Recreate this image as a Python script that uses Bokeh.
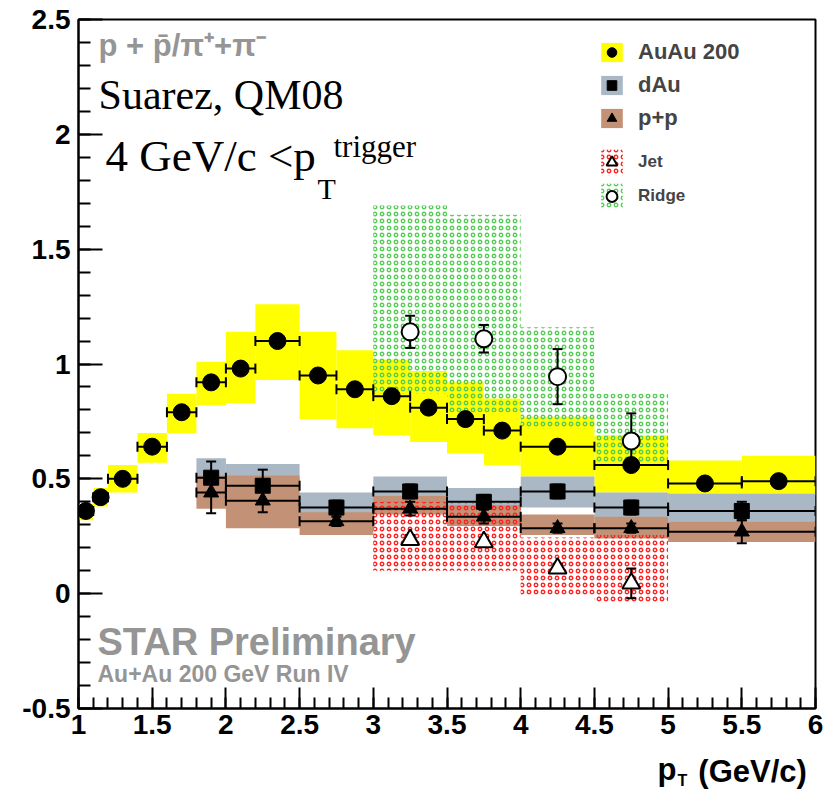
import math
from bokeh.plotting import figure
from bokeh.layouts import column
from bokeh.models import (Range1d, SingleIntervalTicker, Label, Legend, LegendItem,
                          ColumnDataSource)
from bokeh.embed import file_html
from bokeh.resources import INLINE

# ---------------- data ----------------
# Au+Au 200 GeV (filled circles, yellow systematic boxes)
auau_x = [1.05, 1.15, 1.3, 1.5, 1.7, 1.9, 2.1, 2.35, 2.625, 2.875, 3.125, 3.375, 3.625, 3.875, 4.25, 4.75, 5.25, 5.75]
auau_lo = [1.0, 1.1, 1.2, 1.4, 1.6, 1.8, 2.0, 2.2, 2.5, 2.75, 3.0, 3.25, 3.5, 3.75, 4.0, 4.5, 5.0, 5.5]
auau_hi = [1.1, 1.2, 1.4, 1.6, 1.8, 2.0, 2.2, 2.5, 2.75, 3.0, 3.25, 3.5, 3.75, 4.0, 4.5, 5.0, 5.5, 6.0]
auau_y = [0.36, 0.42, 0.50, 0.64, 0.79, 0.92, 0.98, 1.10, 0.95, 0.89, 0.86, 0.81, 0.76, 0.71, 0.64, 0.56, 0.48, 0.49]
auau_sys_lo = [0.32, 0.38, 0.44, 0.57, 0.70, 0.82, 0.83, 0.93, 0.76, 0.72, 0.69, 0.66, 0.61, 0.56, 0.51, 0.44, 0.43, 0.43]
auau_sys_hi = [0.39, 0.46, 0.56, 0.70, 0.87, 1.01, 1.14, 1.26, 1.14, 1.06, 1.02, 0.97, 0.92, 0.85, 0.77, 0.69, 0.58, 0.60]

# d+Au (filled squares, grey-blue boxes)
dau_x = [1.9, 2.25, 2.75, 3.25, 3.75, 4.25, 4.75, 5.5]
dau_lo = [1.8, 2.0, 2.5, 3.0, 3.5, 4.0, 4.5, 5.0]
dau_hi = [2.0, 2.5, 3.0, 3.5, 4.0, 4.5, 5.0, 6.0]
dau_y = [0.505, 0.47, 0.375, 0.445, 0.40, 0.445, 0.375, 0.36]
dau_err = [0.07, 0.07, 0.03, 0.03, 0.03, 0.03, 0.03, 0.04]
dau_sys_lo = [0.435, 0.385, 0.315, 0.365, 0.345, 0.375, 0.325, 0.315]
dau_sys_hi = [0.59, 0.565, 0.44, 0.51, 0.46, 0.51, 0.44, 0.435]

# p+p (filled triangles, brown boxes)
pp_x = [1.9, 2.25, 2.75, 3.25, 3.75, 4.25, 4.75, 5.5]
pp_lo = [1.8, 2.0, 2.5, 3.0, 3.5, 4.0, 4.5, 5.0]
pp_hi = [2.0, 2.5, 3.0, 3.5, 4.0, 4.5, 5.0, 6.0]
pp_y = [0.44, 0.405, 0.315, 0.37, 0.335, 0.285, 0.285, 0.27]
pp_err = [0.09, 0.05, 0.02, 0.03, 0.03, 0.02, 0.02, 0.05]
pp_sys_lo = [0.37, 0.285, 0.255, 0.345, 0.295, 0.255, 0.24, 0.225]
pp_sys_hi = [0.515, 0.515, 0.355, 0.425, 0.385, 0.345, 0.335, 0.315]

# Jet (open triangles, red hatch)
jet_x = [3.25, 3.75, 4.25, 4.75]
jet_lo = [3.0, 3.5, 4.0, 4.5]
jet_hi = [3.5, 4.0, 4.5, 5.0]
jet_y = [0.235, 0.225, 0.11, 0.045]
jet_err = [0.02, 0.02, 0.02, 0.065]
jet_sys_lo = [0.10, 0.10, -0.005, -0.035]
jet_sys_hi = [0.40, 0.395, 0.245, 0.255]

# Ridge (open circles, green hatch)
ridge_x = [3.25, 3.75, 4.25, 4.75]
ridge_lo = [3.0, 3.5, 4.0, 4.5]
ridge_hi = [3.5, 4.0, 4.5, 5.0]
ridge_y = [1.14, 1.11, 0.945, 0.665]
ridge_err = [0.07, 0.06, 0.12, 0.12]
ridge_sys_lo = [0.87, 0.79, 0.72, 0.57]
ridge_sys_hi = [1.69, 1.65, 1.16, 0.87]

x_ticks = [1, 1.5, 2, 2.5, 3, 3.5, 4, 4.5, 5, 5.5, 6]
x_tick_labels = ["1", "1.5", "2", "2.5", "3", "3.5", "4", "4.5", "5", "5.5", "6"]
y_ticks = [-0.5, 0, 0.5, 1, 1.5, 2, 2.5]
y_tick_labels = ["-0.5", "0", "0.5", "1", "1.5", "2", "2.5"]

# ---------------- figure ----------------
W = 835
p = figure(width=W, height=753, x_range=Range1d(1, 6), y_range=Range1d(-0.5, 2.5),
           output_backend="svg", toolbar_location=None,
           min_border_left=78, min_border_right=20, min_border_top=19, min_border_bottom=45)
p.xgrid.visible = False
p.ygrid.visible = False
p.outline_line_color = "black"
p.outline_line_width = 2
p.background_fill_color = "white"
p.border_fill_color = "white"

SANS = "Liberation Sans"
SERIF = "Liberation Serif"


def src(x, lo, hi, y, slo, shi, err=None):
    d = dict(x=x, lo=lo, hi=hi, y=y, slo=slo, shi=shi)
    if err is not None:
        d["ylo"] = [a - e for a, e in zip(y, err)]
        d["yhi"] = [a + e for a, e in zip(y, err)]
    return ColumnDataSource(d)


s_auau = src(auau_x, auau_lo, auau_hi, auau_y, auau_sys_lo, auau_sys_hi)
s_dau = src(dau_x, dau_lo, dau_hi, dau_y, dau_sys_lo, dau_sys_hi, dau_err)
s_pp = src(pp_x, pp_lo, pp_hi, pp_y, pp_sys_lo, pp_sys_hi, pp_err)
s_jet = src(jet_x, jet_lo, jet_hi, jet_y, jet_sys_lo, jet_sys_hi, jet_err)
s_ridge = src(ridge_x, ridge_lo, ridge_hi, ridge_y, ridge_sys_lo, ridge_sys_hi, ridge_err)

# systematic boxes
q_auau = p.quad(left="lo", right="hi", bottom="slo", top="shi", source=s_auau,
                fill_color="#ffff00", line_color=None)
q_dau = p.quad(left="lo", right="hi", bottom="slo", top="shi", source=s_dau,
               fill_color="#a9b8c4", line_color=None)
q_pp = p.quad(left="lo", right="hi", bottom="slo", top="shi", source=s_pp,
              fill_color="#c39276", line_color=None)
q_ridge = p.quad(left="lo", right="hi", bottom="slo", top="shi", source=s_ridge,
                 fill_color=None, line_color=None, hatch_pattern="ring",
                 hatch_color="#55cc55", hatch_scale=7, hatch_weight=1.3)
q_jet = p.quad(left="lo", right="hi", bottom="slo", top="shi", source=s_jet,
               fill_color=None, line_color=None, hatch_pattern="ring",
               hatch_color="#ff2020", hatch_scale=7, hatch_weight=1.3)

# error bars
for s in (s_auau, s_dau, s_pp):
    p.segment(x0="lo", y0="y", x1="hi", y1="y", source=s, line_color="black", line_width=2)
    p.scatter(x="lo", y="y", source=s, marker="dash", angle=math.pi / 2, size=10,
              line_color="black", line_width=2)
    p.scatter(x="hi", y="y", source=s, marker="dash", angle=math.pi / 2, size=10,
              line_color="black", line_width=2)
for s in (s_dau, s_pp, s_jet, s_ridge):
    p.segment(x0="x", y0="ylo", x1="x", y1="yhi", source=s, line_color="black", line_width=2)
    p.scatter(x="x", y="ylo", source=s, marker="dash", size=10, line_color="black", line_width=2)
    p.scatter(x="x", y="yhi", source=s, marker="dash", size=10, line_color="black", line_width=2)

# markers
m_auau = p.scatter(x="x", y="y", source=s_auau, marker="circle", size=17,
                   fill_color="black", line_color="black")
m_dau = p.scatter(x="x", y="y", source=s_dau, marker="square", size=15,
                  fill_color="black", line_color="black")
m_pp = p.scatter(x="x", y="y", source=s_pp, marker="triangle", size=15,
                 fill_color="black", line_color="black")
m_jet = p.scatter(x="x", y="y", source=s_jet, marker="triangle", size=18,
                  fill_color="white", line_color="black", line_width=2)
m_ridge = p.scatter(x="x", y="y", source=s_ridge, marker="circle", size=17,
                    fill_color="white", line_color="black", line_width=2)

# axes
for ax, ticks, labels in ((p.xaxis[0], x_ticks, x_tick_labels), (p.yaxis[0], y_ticks, y_tick_labels)):
    ax.ticker = SingleIntervalTicker(interval=0.5, num_minor_ticks=5)
    ax.major_label_overrides = {float(t): l for t, l in zip(ticks, labels)}
    ax.axis_line_width = 2
    ax.major_tick_line_width = 2
    ax.minor_tick_line_width = 2
    ax.major_tick_out = 0
    ax.minor_tick_out = 0
    ax.major_label_text_font = SANS
    ax.major_label_text_font_style = "bold"
    ax.major_label_text_font_size = "28px"
    ax.major_label_text_color = "black"
p.yaxis.major_tick_in = 24
p.yaxis.minor_tick_in = 12
p.xaxis.major_tick_in = 21
p.xaxis.minor_tick_in = 11
p.yaxis.major_label_standoff = 8
p.xaxis.major_label_standoff = 6

# legends
leg_kw = dict(padding=0, margin=0, border_line_color=None, background_fill_alpha=0,
              label_text_font=SANS, label_text_font_style="bold", label_standoff=13,
              glyph_width=27)
leg1 = Legend(items=[LegendItem(label="AuAu 200", renderers=[q_auau, m_auau]),
                     LegendItem(label="dAu", renderers=[q_dau, m_dau]),
                     LegendItem(label="p+p", renderers=[q_pp, m_pp])],
              location=(520, 577), glyph_height=24, label_height=24, spacing=7,
              label_text_font_size="22px", **leg_kw)
leg2 = Legend(items=[LegendItem(label="Jet", renderers=[q_jet, m_jet]),
                     LegendItem(label="Ridge", renderers=[q_ridge, m_ridge])],
              location=(520, 496), glyph_height=32, label_height=32, spacing=2,
              label_text_font_size="17px", **leg_kw)
p.add_layout(leg1)
p.add_layout(leg2)

# text helpers: x in data units, baseline given as page pixel row
Y0_PX, PX_PER_UNIT = 593.5, 229.4


def lab(x, base_px, text, size, font=SANS, style="normal", color="black"):
    shift = 0.3 * size
    y = (Y0_PX - (base_px - shift)) / PX_PER_UNIT
    p.add_layout(Label(x=x, y=y, text=text, text_font=font, text_font_size=f"{size}px",
                       text_font_style=style, text_color=color, text_baseline="alphabetic",
                       text_align="left"))


GREY = "#959595"
lab(1.136, 55, "p + p\u0304/\u03c0\u207a+\u03c0\u207b", 31, SANS, "bold", GREY)
lab(1.136, 108, "Suarez, QM08", 42, SERIF)
lab(1.183, 170, "4 GeV/c <p", 45, SERIF)
lab(2.621, 198, "T", 30, SERIF)
lab(2.730, 156, "trigger", 31, SERIF)
lab(1.129, 653, "STAR Preliminary", 38, SANS, "bold", GREY)
lab(1.129, 681, "Au+Au 200 GeV Run IV", 23, SANS, "bold", GREY)

# x-axis title strip below the plot
H2 = 39
p2 = figure(width=W, height=H2, x_range=p.x_range, y_range=Range1d(0, H2),
            output_backend="svg", toolbar_location=None, x_axis_type=None, y_axis_type=None,
            min_border_left=78, min_border_right=20, min_border_top=0, min_border_bottom=0)
p2.grid.visible = False
p2.outline_line_color = None
p2.background_fill_color = "white"
p2.border_fill_color = "white"


def lab2(x, base_px, text, size):
    y = (753 + H2 - base_px) + 0.3 * size
    p2.add_layout(Label(x=x, y=y, text=text, text_font=SANS, text_font_size=f"{size}px",
                        text_font_style="bold", text_color="black", text_baseline="alphabetic",
                        text_align="left"))


lab2(4.928, 778, "p", 31)
lab2(5.064, 785, "T", 16)
lab2(5.205, 780, "(GeV/c)", 31)

layout = column(p, p2, spacing=0)
open("out.html", "w").write(file_html(layout, INLINE))
